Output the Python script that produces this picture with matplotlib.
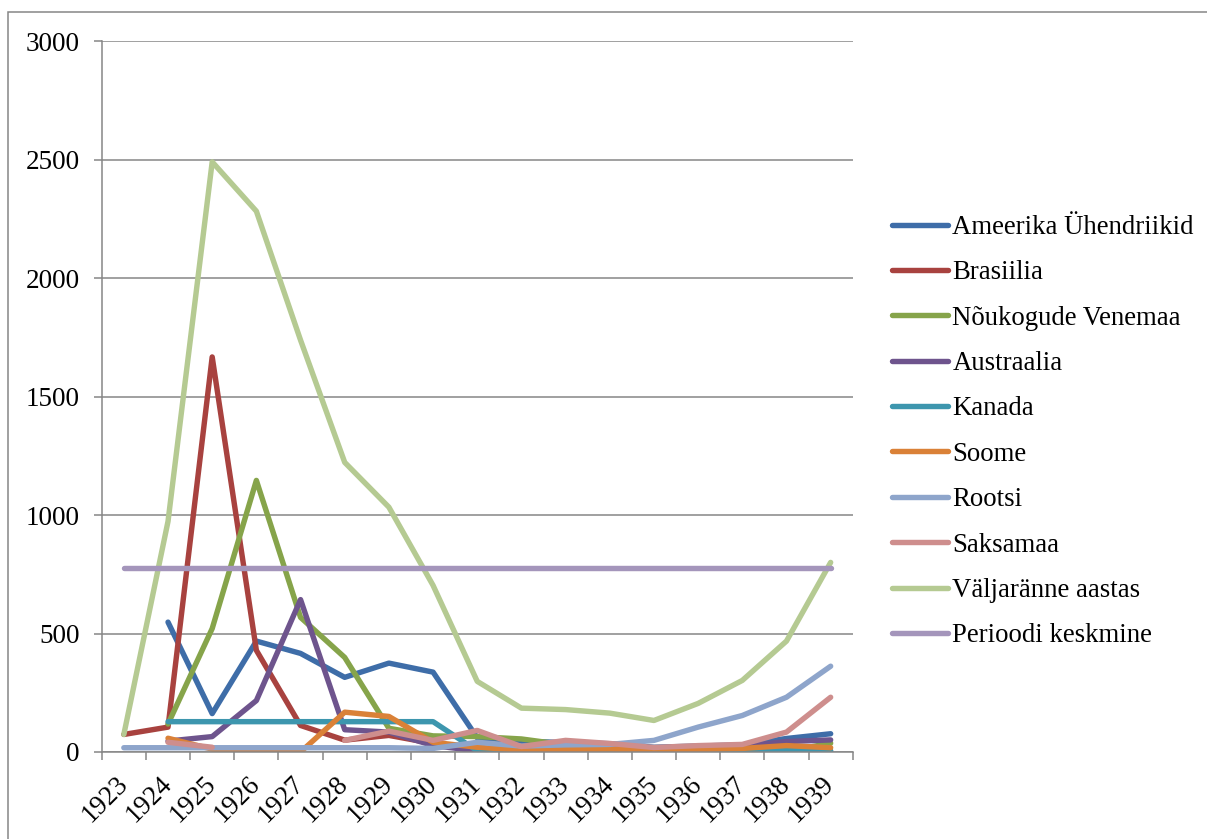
import numpy as np
import matplotlib
matplotlib.use("Agg")
import matplotlib.pyplot as plt
from matplotlib.patches import Rectangle

## andmed (loetud pildilt)
aastad = [str(a) for a in range(1923, 1940)]
nan = np.nan

usa = [nan, 548, 162, 468, 416, 315, 375, 337, 60, 45, 40, 35, 20, 25, 30, 57, 77]
brasiilia = [74, 105, 1667, 429, 112, 50, 70, 36, 15, 10, 8, 5, 5, 5, 3, 3, 2]
venemaa = [nan, 118, 521, 1146, 568, 399, 100, 68, 65, 55, 30, 20, 10, 8, 5, 3, 37]
austraalia = [nan, 46, 65, 217, 643, 94, 84, 27, 5, 15, 15, 12, 12, 15, 25, 44, 51]
kanada = [nan, 128, 128, 128, 128, 128, 128, 128, 5, 3, 3, 3, 3, 4, 5, 12, 5]
soome = [nan, 58, 12, 0, 0, 168, 150, 41, 20, 8, 10, 12, 8, 10, 15, 27, 18]
rootsi = [18, 18, 18, 18, 18, 18, 18, 15, 41, 25, 30, 32, 49, 105, 154, 231, 362]
saksamaa = [nan, 41, 20, nan, nan, 49, 88, 49, 91, 23, 49, 36, 19, 27, 32, 84, 231]
valjaranne = [74, 973, 2490, 2282, 1738, 1222, 1033, 703, 298, 185, 179, 164, 133, 205, 302, 468, 800]
keskmine = [776] * 17

nimed = ["Ameerika Ühendriikid", "Brasiilia", "Nõukogude Venemaa", "Austraalia",
         "Kanada", "Soome", "Rootsi", "Saksamaa", "Väljaränne aastas", "Perioodi keskmine"]
seeriad = [usa, brasiilia, venemaa, austraalia, kanada, soome, rootsi, saksamaa,
           valjaranne, keskmine]
varvid = ["#3E6DA8", "#A8423F", "#86A44A", "#6E548D", "#3D96AE",
          "#DA8137", "#8EA5CB", "#CE8E8D", "#B5CA92", "#A495BB"]

plt.rcParams['font.family'] = ['Liberation Serif', 'DejaVu Serif']
hall = "#868686"

fig = plt.figure(figsize=(12.07, 8.39), dpi=100)
ax = fig.add_axes([0.0843, 0.1037, 0.7065 - 0.0843, 0.9511 - 0.1037])

x = np.arange(len(aastad))
for s, nimi, v in zip(seeriad, nimed, varvid):
    ax.plot(x, np.array(s, dtype=float), color=v, lw=3.9, label=nimi,
            solid_capstyle="round", solid_joinstyle="round")

ax.set_xlim(-0.5, len(aastad) - 0.5)
ax.set_ylim(0, 3000)
ax.set_yticks(range(0, 3001, 500))
ax.yaxis.grid(True, color=hall, lw=1.1)
ax.set_axisbelow(True)

ax.set_xticks(np.arange(-0.5, len(aastad)), minor=False)
ax.set_xticklabels([])
ax.set_xticks(x, minor=True)
ax.set_xticklabels(aastad, minor=True, rotation=45, ha="right", va="center",
                   rotation_mode="anchor", fontsize=19.5)
ax.tick_params(axis="x", which="minor", length=0, pad=20)
ax.tick_params(axis="x", which="major", length=6, width=1.1, color=hall)
ax.tick_params(axis="y", length=6, width=1.1, color=hall, labelsize=19.5, pad=10)

for k in ["top", "right"]:
    ax.spines[k].set_visible(False)
for k in ["left", "bottom"]:
    ax.spines[k].set_color(hall)
    ax.spines[k].set_linewidth(1.1)

ax.legend(loc="center left", bbox_to_anchor=(0.739, 0.4855), bbox_transform=fig.transFigure,
          frameon=False, fontsize=19.3, handlelength=2.1, handletextpad=0.15,
          labelspacing=0.76, borderpad=0, borderaxespad=0)

fig.patches.append(Rectangle((8 / 1207, -0.05), 1.1, 1 - 12 / 839 + 0.05,
                             transform=fig.transFigure, fill=False,
                             edgecolor=hall, lw=1.1))

fig.savefig("out.png", dpi=100)
